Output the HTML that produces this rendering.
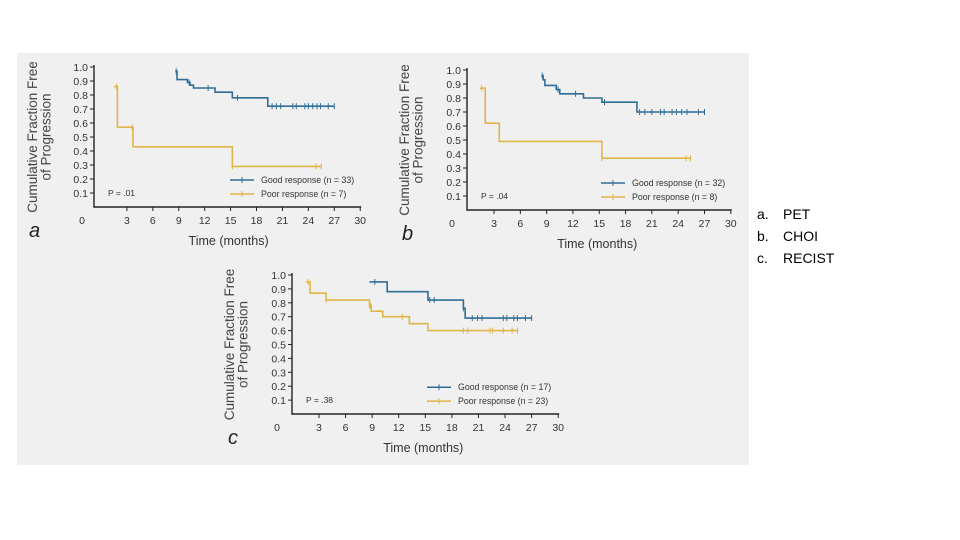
<!DOCTYPE html>
<html><head><meta charset="utf-8"><style>
body{margin:0;width:960px;height:540px;background:#fff;overflow:hidden;font-family:"Liberation Sans",sans-serif}
#bg{position:absolute;left:17px;top:53px;width:732px;height:412px;background:#f0f0f0}
#list{position:absolute;left:784px;top:203px;font-size:14px;line-height:22px;color:#000}
#list span{display:inline-block;width:26px;margin-left:-27px}
svg{position:absolute;left:0;top:0}
</style></head><body>
<div id="bg"></div>
<div id="list">
<div><span>a.</span>PET</div>
<div><span>b.</span>CHOI</div>
<div><span>c.</span>RECIST</div>
</div>
<svg id="svg" width="960" height="540"></svg>
<script>
const xTicks=[0,3,6,9,12,15,18,21,24,27,30];
const yTicks=[0.1,0.2,0.3,0.4,0.5,0.6,0.7,0.8,0.9,1.0];
// Chart a (PET)
const aGoodT=[8.6,8.8,10.0,10.3,10.7,13.2,15.2,19.3,27];
const aGoodS=[0.97,0.91,0.89,0.87,0.85,0.82,0.78,0.72,0.72];
const aGoodC=[8.7,10.2,12.4,15.8,19.8,20.3,20.8,22.2,22.6,23.6,24.0,24.5,25.0,25.4,26.3,27];
const aPoorT=[1.5,1.9,3.7,15.2,25.5];
const aPoorS=[0.86,0.57,0.43,0.29,0.29];
const aPoorC=[1.8,3.6,15.2,24.9,25.5];
// Chart b (CHOI)
const bGoodT=[8.4,8.6,8.8,10.1,10.5,13.2,15.3,19.3,27];
const bGoodS=[0.96,0.93,0.89,0.86,0.83,0.80,0.77,0.70,0.70];
const bGoodC=[8.5,10.3,12.3,15.6,19.6,20.2,21.0,22.0,22.4,23.3,23.8,24.4,25.0,26.3,27];
const bPoorT=[1.4,2.0,3.6,15.3,25.5];
const bPoorS=[0.87,0.62,0.49,0.37,0.37];
const bPoorC=[1.6,15.3,24.9,25.4];
// Chart c (RECIST)
const cGoodT=[8.7,10.7,15.3,19.3,19.5,27];
const cGoodS=[0.95,0.88,0.82,0.76,0.69,0.69];
const cGoodC=[9.3,15.5,16.0,19.3,20.3,20.9,21.4,23.8,24.2,25.0,25.4,26.3,27];
const cPoorT=[1.5,2.0,3.8,8.7,8.9,9.0,10.2,13.2,15.3,25.5];
const cPoorS=[0.95,0.87,0.82,0.78,0.74,0.74,0.70,0.65,0.60,0.60];
const cPoorC=[1.8,3.8,8.7,8.8,12.4,19.3,19.8,22.3,22.6,23.8,24.8,25.4];

const NS='http://www.w3.org/2000/svg';
const svg=document.getElementById('svg');
function el(tag,attrs,parent,text){const e=document.createElementNS(NS,tag);for(const k in attrs)e.setAttribute(k,attrs[k]);if(text!==undefined)e.textContent=text;(parent||svg).appendChild(e);return e;}
const GOOD='#2f6e97',POOR='#e1b54a';
function chart(cfg){
  const g=el('g',{});
  
  
  const X=t=>cfg.x0+t*cfg.px;
  const Y=s=>cfg.yb-s*cfg.py;
  const ax=el('path',{d:`M${cfg.axX},${Y(1.0)-2}V${cfg.yb}H${X(30)+1}`,stroke:'#222','stroke-width':1.4,fill:'none'},g);
  
  
  yTicks.forEach(v=>{
    el('line',{x1:cfg.axX-4,x2:cfg.axX,y1:Y(v),y2:Y(v),stroke:'#222'},g);
    const t=el('text',{x:cfg.axX-6,y:Y(v)+4,'font-size':10.5,'text-anchor':'end',fill:'#333'},g,v.toFixed(1));
    
    
  });
  xTicks.forEach(v=>{
    if(v>0)el('line',{x1:X(v),x2:X(v),y1:cfg.yb,y2:cfg.yb+4,stroke:'#222'},g);
    const lx=v===0?cfg.zeroX:X(v);
    const t=el('text',{x:lx,y:cfg.yb+17,'font-size':10.5,'text-anchor':'middle',fill:'#333'},g,String(v));
    
    
  });
  const xt=el('text',{x:X(15)-2,y:cfg.yb+38,'font-size':12.5,'text-anchor':'middle',fill:'#333'},g,'Time (months)');
  
  
  const cy=(Y(1.0)+cfg.yb)/2;
  const yt=el('text',{transform:`translate(${cfg.ylx},${cy}) rotate(-90)`,'font-size':13.5,'text-anchor':'middle',fill:'#444'},g);
  
  
  el('tspan',{x:0,dy:0},yt,'Cumulative Fraction Free');
  el('tspan',{x:0,dy:13.5},yt,'of Progression');
  const pl=el('text',{x:cfg.panX,y:cfg.yb+30,'font-size':20,'font-style':'italic',fill:'#222'},g,cfg.id);
  
  
  const pv=el('text',{x:cfg.axX+14,y:Y(0.1)+3,'font-size':8.5,fill:'#333'},g,'P = '+cfg.p);
  
  
  function curve(T,S,C,col,name){
    let d=`M${X(T[0])},${Y(S[0])}`;
    for(let i=1;i<T.length;i++){d+=`H${X(T[i])}V${Y(S[i])}`;}
    const p=el('path',{d,stroke:col,'stroke-width':1.6,fill:'none'},g);
    
    
    C.forEach(c=>{
      let s=S[0];for(let i=0;i<T.length;i++){if(T[i]<=c)s=S[i];}
      const m=el('line',{x1:X(c),x2:X(c),y1:Y(s)-3,y2:Y(s)+3,stroke:col,'stroke-width':1},g);
      
      
    });
  }
  curve(cfg.poorT,cfg.poorS,cfg.poorC,POOR,'poor-response');
  curve(cfg.goodT,cfg.goodS,cfg.goodC,GOOD,'good-response');
  const lx=cfg.legX, ly1=Y(0.2)+1, ly2=Y(0.1)+1;
  [[GOOD,ly1,'Good response (n = '+cfg.nG+')'],[POOR,ly2,'Poor response (n = '+cfg.nP+')']].forEach(([c,y,txt],i)=>{
    const le=el('g',{},g);
    
    
    el('line',{x1:lx,x2:lx+24,y1:y,y2:y,stroke:c,'stroke-width':1.5},le);
    el('line',{x1:lx+12,x2:lx+12,y1:y-3,y2:y+3,stroke:c},le);
    el('text',{x:lx+31,y:y+3,'font-size':8.8,fill:'#333'},le,txt);
  });
}
chart({id:'a',x0:101,px:8.64,axX:94,yb:207,py:140,zeroX:82,ylx:37,panX:29,p:'.01',legX:230,nG:33,nP:7,
  goodT:aGoodT,goodS:aGoodS,goodC:aGoodC,poorT:aPoorT,poorS:aPoorS,poorC:aPoorC});
chart({id:'b',x0:467.7,px:8.77,axX:467,yb:210,py:140,zeroX:452,ylx:409,panX:402,p:'.04',legX:601,nG:32,nP:8,
  goodT:bGoodT,goodS:bGoodS,goodC:bGoodC,poorT:bPoorT,poorS:bPoorS,poorC:bPoorC});
chart({id:'c',x0:292.4,px:8.86,axX:292,yb:414,py:139,zeroX:277,ylx:234,panX:228,p:'.38',legX:427,nG:17,nP:23,
  goodT:cGoodT,goodS:cGoodS,goodC:cGoodC,poorT:cPoorT,poorS:cPoorS,poorC:cPoorC});
</script>
</body></html>
